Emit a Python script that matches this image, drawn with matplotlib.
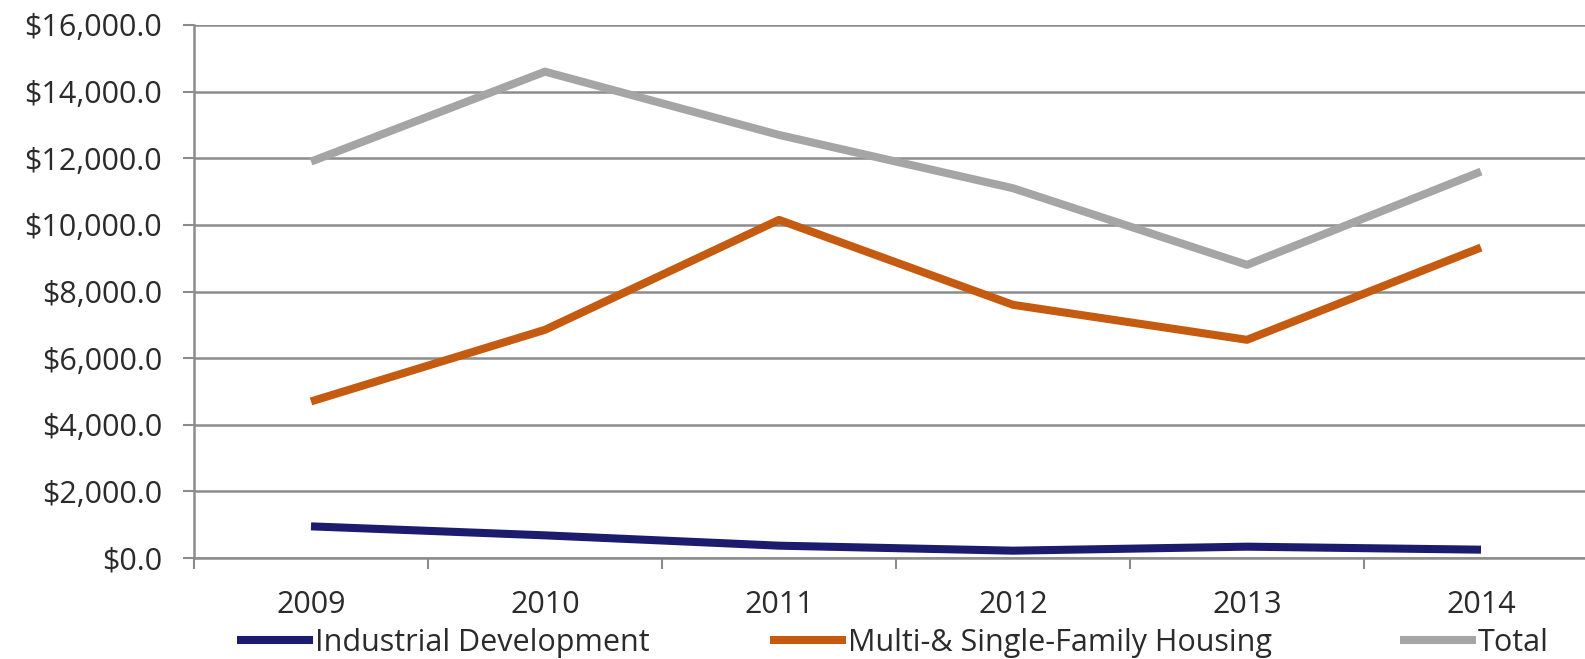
import matplotlib
matplotlib.use("Agg")
import matplotlib.pyplot as plt
from matplotlib.lines import Line2D
from matplotlib.ticker import FuncFormatter

# data
years = ["2009", "2010", "2011", "2012", "2013", "2014"]
industrial = [950, 680, 370, 220, 340, 250]
housing = [4700, 6850, 10150, 7600, 6550, 9320]
total = [11900, 14600, 12700, 11100, 8800, 11600]

labels = ["Industrial Development", "Multi-& Single-Family Housing", "Total"]
colors = ["#1c1c6e", "#c55a11", "#a5a5a5"]

plt.rcParams["font.family"] = ["Open Sans", "DejaVu Sans"]
text_color = "#2b2b2b"
grid_color = "#8c8c8c"
fs = 22

W, H = 1585, 659
fig = plt.figure(figsize=(W / 100, H / 100), dpi=100)
ax = fig.add_axes([194 / W, 1 - 558 / H, (1598 - 194) / W, (558 - 25) / H])

x = list(range(len(years)))
for series, c in zip([industrial, housing, total], colors):
    ax.plot(x, series, color=c, lw=5.8, solid_capstyle="butt", zorder=3)

ax.set_xlim(-0.5, len(years) - 0.5)
ax.set_ylim(0, 16000)
ax.set_yticks(range(0, 16001, 2000))
ax.yaxis.set_major_formatter(FuncFormatter(lambda v, p: f"${v:,.1f}"))
ax.grid(axis="y", color=grid_color, lw=1.8, zorder=1)

ax.set_xticks(x)
ax.set_xticklabels(years)
ax.set_xticks([i - 0.5 for i in range(len(years) + 1)], minor=True)
ax.tick_params(axis="x", which="major", length=0, pad=23, labelsize=fs, labelcolor=text_color)
ax.tick_params(axis="x", which="minor", length=8, width=1.5, color=grid_color, direction="out")
ax.tick_params(axis="y", length=8, width=1.5, color=grid_color, pad=15, labelsize=fs, labelcolor=text_color)

for side in ["top", "right"]:
    ax.spines[side].set_visible(False)
ax.spines["left"].set_color(grid_color)
ax.spines["left"].set_linewidth(1.8)
ax.spines["bottom"].set_color(grid_color)
ax.spines["bottom"].set_linewidth(1.8)

# legend entries placed individually under the axis labels
starts = [237, 770, 1400]
for lab, c, xs in zip(labels, colors, starts):
    h = Line2D([], [], color=c, lw=5.8, solid_capstyle="butt")
    fig.legend([h], [lab], loc="center left", bbox_to_anchor=(xs / W, 1 - 643 / H),
               frameon=False, fontsize=fs, handlelength=2.5, handletextpad=0.05,
               borderpad=0, borderaxespad=0, labelcolor=text_color)

fig.savefig("out.png", dpi=100)
